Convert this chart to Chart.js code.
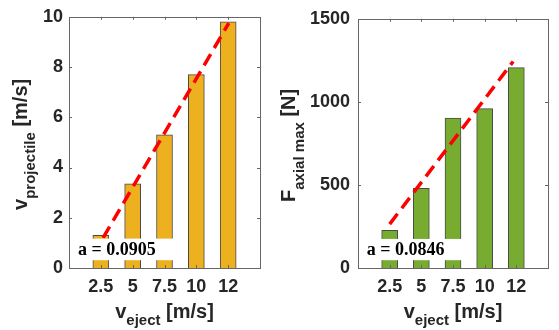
<!DOCTYPE html>
<html lang="en">
<head>
    <meta charset="UTF-8">
    <title>Projectile velocity and axial force</title>
    <script src="https://cdn.jsdelivr.net/npm/chart.js"></script>
    <style>
        body {
            margin: 0;
            background: #fff;
        }
        .panel {
            position: absolute;
            top: 0;
        }
        #leftPanel { left: 0; }
        #rightPanel { left: 280px; }
    </style>
</head>
<body>
    <div class="panel" id="leftPanel"><canvas id="velChart" width="280" height="330"></canvas></div>
    <div class="panel" id="rightPanel"><canvas id="forceChart" width="279" height="330"></canvas></div>

    <script>
        // eject velocity categories (placed at x = 1..5)
        const xLabels = ['2.5', '5', '7.5', '10', '12'];
        const xPos = [1, 2, 3, 4, 5];

        // projectile velocity [m/s]
        const projVel = [1.3, 3.35, 5.3, 7.7, 9.8];
        // max axial force [N]
        const axialForce = [226, 480, 903, 959, 1206];

        // red dashed fit lines (x in category units)
        const velFitX = [1.07, 5.02];
        const velFitY = [1.2, 9.75];
        const forceFitX = [1.0, 4.9];
        const forceFitY = [264, 1243];

        const velNote = 'a = 0.0905';
        const forceNote = 'a = 0.0846';

        const sansBold = (px) => `bold ${px}px "Liberation Sans", Arial, sans-serif`;
        const serifBold = (px) => `bold ${px}px "Liberation Serif", "Times New Roman", serif`;
        const textColor = '#262626';
        const frameColor = '#666666';

        // draws text made of pieces (main / subscript) centred on 0,0
        function drawRich(ctx, parts) {
            let total = 0;
            parts.forEach(p => { ctx.font = p.font; p.w = ctx.measureText(p.text).width; total += p.w; });
            let x = -total / 2;
            ctx.textAlign = 'left';
            ctx.textBaseline = 'alphabetic';
            parts.forEach(p => {
                ctx.font = p.font;
                ctx.fillText(p.text, x, p.dy);
                x += p.w;
            });
        }

        function makeChart(id, cfg) {
            const decor = {
                id: 'decor',
                afterDatasetsDraw(chart) {
                    const ctx = chart.ctx;
                    const xs = chart.scales.x, ys = chart.scales.y;
                    const n = cfg.note;
                    const left = xs.getPixelForValue(n.x0), right = xs.getPixelForValue(n.x1);
                    const top = ys.getPixelForValue(n.y1), bottom = ys.getPixelForValue(n.y0);
                    ctx.save();
                    ctx.fillStyle = '#ffffff';
                    ctx.fillRect(left, top, right - left, bottom - top);
                    ctx.fillStyle = '#000000';
                    ctx.font = serifBold(18);
                    ctx.textAlign = 'left';
                    ctx.textBaseline = 'middle';
                    ctx.fillText(n.text, xs.getPixelForValue(n.tx), (top + bottom) / 2 + 1);
                    ctx.restore();
                },
                afterDraw(chart) {
                    const ctx = chart.ctx;
                    const a = chart.chartArea;
                    const xs = chart.scales.x, ys = chart.scales.y;
                    ctx.save();
                    ctx.strokeStyle = frameColor;
                    ctx.lineWidth = 1;
                    ctx.strokeRect(Math.round(a.left) + 0.5, Math.round(a.top) + 0.5,
                        Math.round(a.right - a.left), Math.round(a.bottom - a.top));
                    ctx.beginPath();
                    xs.ticks.forEach(t => {
                        const px = Math.round(xs.getPixelForValue(t.value)) + 0.5;
                        ctx.moveTo(px, a.bottom); ctx.lineTo(px, a.bottom - 3);
                        ctx.moveTo(px, a.top); ctx.lineTo(px, a.top + 3);
                    });
                    ys.ticks.forEach(t => {
                        const py = Math.round(ys.getPixelForValue(t.value)) + 0.5;
                        ctx.moveTo(a.left, py); ctx.lineTo(a.left + 3, py);
                        ctx.moveTo(a.right, py); ctx.lineTo(a.right - 3, py);
                    });
                    ctx.stroke();

                    ctx.fillStyle = textColor;
                    // x title
                    ctx.save();
                    ctx.translate((a.left + a.right) / 2, cfg.xTitleY);
                    drawRich(ctx, [
                        { text: 'v', font: sansBold(20), dy: 0 },
                        { text: 'eject', font: sansBold(15), dy: 7 },
                        { text: ' [m/s]', font: sansBold(20), dy: 0 }
                    ]);
                    ctx.restore();
                    // y title
                    ctx.save();
                    ctx.translate(cfg.yTitleX, (a.top + a.bottom) / 2 + 2);
                    ctx.rotate(-Math.PI / 2);
                    drawRich(ctx, cfg.yTitle);
                    ctx.restore();
                    ctx.restore();
                }
            };

            return new Chart(document.getElementById(id), {
                data: {
                    datasets: [
                        {
                            type: 'line',
                            data: cfg.fitX.map((x, i) => ({ x: x, y: cfg.fitY[i] })),
                            borderColor: '#ff0000',
                            borderWidth: 3.5,
                            borderDash: [13, 7],
                            pointRadius: 0,
                            order: 0
                        },
                        {
                            type: 'bar',
                            data: xPos.map((x, i) => ({ x: x, y: cfg.values[i] })),
                            backgroundColor: cfg.color,
                            borderColor: '#4a4a4a',
                            borderWidth: 1,
                            barThickness: 16,
                            order: 1
                        }
                    ]
                },
                options: {
                    responsive: false,
                    animation: false,
                    layout: { padding: { left: 0, right: cfg.padRight, top: 11, bottom: 0 } },
                    plugins: { legend: { display: false }, tooltip: { enabled: false } },
                    scales: {
                        x: {
                            type: 'linear',
                            min: 0,
                            max: 6,
                            offset: false,
                            afterBuildTicks: s => { s.ticks = xPos.map(v => ({ value: v })); },
                            afterFit: s => { s.height = 62; },
                            grid: { display: false, drawTicks: false, offset: false },
                            border: { display: false },
                            ticks: {
                                autoSkip: false,
                                maxRotation: 0,
                                padding: 8,
                                color: textColor,
                                font: { family: '"Liberation Sans", Arial, sans-serif', size: 18, weight: 'bold' },
                                callback: v => xLabels[xPos.indexOf(v)]
                            }
                        },
                        y: {
                            min: 0,
                            max: cfg.yMax,
                            afterFit: s => { s.width = cfg.yWidth; },
                            grid: { display: false, drawTicks: false },
                            border: { display: false },
                            ticks: {
                                stepSize: cfg.yStep,
                                padding: cfg.yPad,
                                color: textColor,
                                font: { family: '"Liberation Sans", Arial, sans-serif', size: 18, weight: 'bold' },
                                callback: v => String(v)
                            }
                        }
                    }
                },
                plugins: [decor]
            });
        }

        makeChart('velChart', {
            values: projVel,
            color: '#EDB120',
            fitX: velFitX, fitY: velFitY,
            yMax: 10, yStep: 2, yWidth: 69, yPad: 6, padRight: 20,
            xTitleY: 318,
            yTitleX: 27,
            yTitle: [
                { text: 'v', font: sansBold(20), dy: 0 },
                { text: 'projectile', font: sansBold(15), dy: 8 },
                { text: ' [m/s]', font: sansBold(20), dy: 0 }
            ],
            note: { text: velNote, x0: 0.22, x1: 3.55, y0: 0.31, y1: 1.17, tx: 0.28 }
        });

        makeChart('forceChart', {
            values: axialForce,
            color: '#77AC30',
            fitX: forceFitX, fitY: forceFitY,
            yMax: 1500, yStep: 500, yWidth: 78, yPad: 8, padRight: 11,
            xTitleY: 318,
            yTitleX: 15,
            yTitle: [
                { text: 'F', font: sansBold(20), dy: 0 },
                { text: 'axial max', font: sansBold(15), dy: 9 },
                { text: ' [N]', font: sansBold(20), dy: 0 }
            ],
            note: { text: forceNote, x0: 0.22, x1: 3.55, y0: 47, y1: 175, tx: 0.28 }
        });
    </script>
</body>
</html>
